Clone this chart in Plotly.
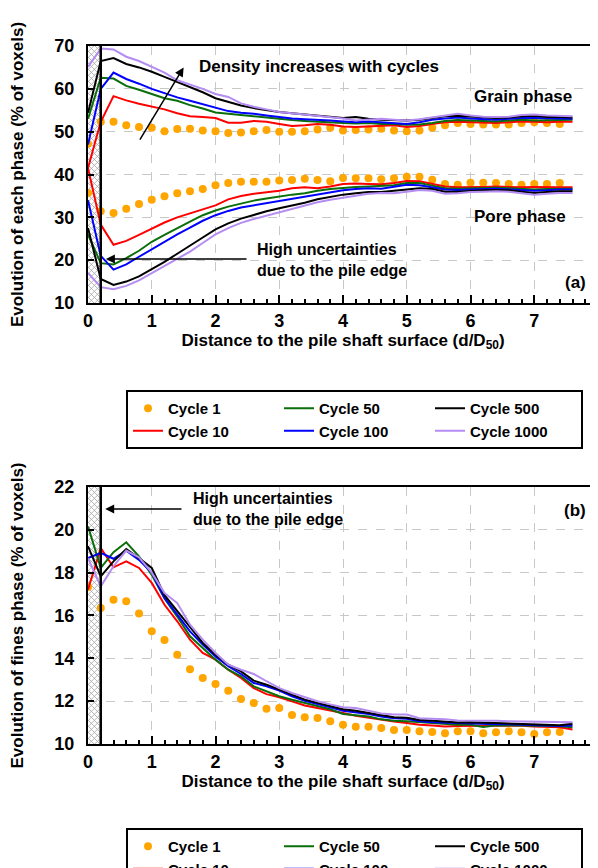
import plotly.graph_objects as go

# ---------------- data ----------------
DIST = [0.0, 0.2, 0.4, 0.6, 0.8, 1.0, 1.2, 1.4, 1.6, 1.8, 2.0, 2.2, 2.4, 2.6, 2.8,
        3.0, 3.2, 3.4, 3.6, 3.8, 4.0, 4.2, 4.4, 4.6, 4.8, 5.0, 5.2, 5.4, 5.6, 5.8,
        6.0, 6.2, 6.4, 6.6, 6.8, 7.0, 7.2, 7.4, 7.6]
DIST_C1 = [0.0, 0.2, 0.4, 0.6, 0.8, 1.0, 1.2, 1.4, 1.6, 1.8, 2.0, 2.2, 2.4, 2.6, 2.8,
           3.0, 3.2, 3.4, 3.6, 3.8, 4.0, 4.2, 4.4, 4.6, 4.8, 5.0, 5.2, 5.4, 5.6, 5.8,
           6.0, 6.2, 6.4, 6.6, 6.8, 7.0, 7.2, 7.4]

CYCLES = ["Cycle 1", "Cycle 10", "Cycle 50", "Cycle 100", "Cycle 500", "Cycle 1000"]

# grain phase (% of voxels)
GRAIN_C1 = [47.2, 52.3, 52.3, 51.5, 51.1, 50.9, 50.1, 50.6, 50.7, 50.3, 50.1, 49.7, 49.8,
            50.1, 50.4, 50.0, 50.0, 50.1, 50.5, 50.9, 50.3, 50.4, 50.5, 50.7, 50.3, 50.1,
            50.3, 50.9, 51.5, 52.0, 51.8, 51.7, 51.7, 51.7, 52.0, 52.2, 52.0, 51.8]
GRAIN_C10 = [41.5, 52.3, 58.3, 57.3, 56.5, 55.9, 55.2, 54.3, 53.6, 53.4, 53.2, 52.1, 52.1,
             52.5, 52.3, 51.8, 51.3, 51.5, 51.8, 51.6, 51.2, 51.1, 51.2, 51.4, 51.5, 51.1,
             51.3, 51.8, 52.2, 52.3, 52.2, 52.1, 52.0, 52.2, 52.4, 52.3, 52.2, 52.3, 52.3]
GRAIN_C50 = [53.0, 62.6, 62.4, 60.7, 59.8, 58.8, 57.8, 57.2, 56.2, 55.4, 54.5, 54.2, 53.9,
             53.5, 53.2, 52.9, 52.7, 52.5, 52.3, 52.2, 52.0, 51.9, 52.0, 51.8, 51.8, 51.6,
             51.7, 52.0, 52.5, 52.7, 52.6, 52.5, 52.4, 52.6, 52.8, 52.6, 52.7, 52.8, 52.8]
GRAIN_C100 = [47.0, 60.0, 63.8, 62.3, 61.2, 60.0, 59.0, 58.0, 57.2, 56.4, 55.5, 54.8, 54.4,
              54.2, 53.8, 53.4, 53.1, 52.9, 52.8, 52.6, 52.4, 52.2, 52.4, 52.2, 52.1, 51.8,
              52.2, 52.8, 53.1, 53.3, 53.1, 52.9, 52.8, 53.0, 53.2, 53.2, 53.1, 53.1, 53.0]
GRAIN_C500 = [54.4, 66.5, 67.2, 65.8, 65.0, 64.0, 62.8, 61.6, 60.5, 59.2, 57.8, 57.0, 56.1,
              55.5, 55.0, 54.6, 54.3, 54.0, 53.8, 53.5, 53.2, 53.4, 53.0, 52.8, 52.7, 52.6,
              52.8, 53.2, 53.6, 53.7, 53.5, 53.3, 53.2, 53.3, 53.6, 53.7, 53.4, 53.4, 53.3]
GRAIN_C1000 = [65.1, 69.4, 69.2, 67.5, 66.5, 65.1, 63.8, 62.0, 61.0, 60.0, 58.8, 58.1, 56.6,
               55.8, 55.2, 54.6, 54.3, 54.0, 53.6, 53.4, 53.1, 52.6, 52.8, 53.0, 52.8, 52.6,
               52.9, 53.3, 53.8, 54.2, 53.8, 53.5, 53.4, 53.5, 53.9, 54.0, 53.8, 53.7, 53.6]

# pore phase (% of voxels)
PORE_C1 = [35.7, 31.4, 31.0, 32.0, 33.1, 34.1, 34.9, 35.6, 36.1, 36.6, 37.5, 38.0, 38.3,
           38.3, 38.3, 38.6, 38.7, 39.0, 38.7, 38.4, 39.2, 39.1, 39.1, 38.9, 39.1, 39.5,
           39.5, 38.8, 37.8, 37.6, 38.1, 38.1, 38.0, 37.8, 37.6, 37.8, 37.8, 38.0]
PORE_C10 = [41.5, 28.3, 23.6, 24.5, 25.9, 27.4, 28.8, 30.0, 30.9, 31.8, 32.8, 34.2, 35.0,
            35.5, 35.8, 36.2, 36.8, 37.0, 36.8, 37.2, 37.8, 37.9, 37.8, 37.7, 38.0, 38.5,
            38.4, 37.8, 37.2, 37.0, 37.0, 37.1, 37.2, 37.1, 37.0, 37.1, 37.0, 37.0, 37.0]
PORE_C50 = [26.0, 19.3, 19.0, 20.5, 22.2, 24.3, 25.9, 27.5, 29.0, 30.5, 31.6, 32.5, 33.2,
            33.9, 34.4, 34.9, 35.3, 35.6, 36.2, 36.6, 36.9, 37.1, 37.2, 37.3, 37.5, 38.0,
            38.0, 37.4, 36.8, 36.7, 36.8, 36.8, 36.9, 36.8, 36.7, 36.5, 36.6, 36.7, 36.7]
PORE_C100 = [34.0, 21.0, 17.8, 19.0, 20.8, 22.6, 24.3, 26.0, 27.6, 29.2, 30.5, 31.5, 32.3,
             32.8, 33.3, 33.8, 34.4, 34.8, 35.3, 35.8, 36.3, 36.6, 36.8, 36.7, 37.1, 37.6,
             37.5, 37.0, 36.5, 36.4, 36.5, 36.6, 36.7, 36.5, 36.4, 36.2, 36.3, 36.5, 36.5]
PORE_C500 = [27.5, 15.6, 14.2, 15.0, 16.2, 17.8, 19.6, 21.5, 23.5, 25.3, 27.2, 28.6, 29.7,
             30.6, 31.4, 32.1, 32.7, 33.4, 34.2, 34.8, 35.3, 35.6, 35.9, 35.9, 36.2, 36.6,
             36.8, 36.6, 36.0, 36.0, 36.2, 36.3, 36.4, 36.3, 36.0, 35.7, 35.9, 36.1, 36.1]
PORE_C1000 = [17.0, 13.7, 13.2, 14.0, 15.3, 17.0, 18.7, 20.3, 22.0, 24.0, 26.0, 27.5, 28.7,
              29.6, 30.4, 31.2, 32.0, 32.8, 33.5, 34.1, 34.6, 35.0, 35.5, 35.7, 35.6, 36.0,
              36.4, 36.2, 35.5, 35.6, 35.9, 36.0, 36.1, 36.0, 35.6, 35.3, 35.5, 35.7, 35.7]

# fines phase (% of voxels)
FINES_C1 = [17.33, 16.35, 16.74, 16.66, 16.09, 15.26, 14.86, 14.17, 13.49, 13.08, 12.80,
            12.49, 12.10, 11.91, 11.65, 11.68, 11.35, 11.25, 11.21, 11.06, 10.90, 10.81,
            10.81, 10.75, 10.65, 10.65, 10.59, 10.56, 10.50, 10.59, 10.59, 10.50, 10.55,
            10.59, 10.55, 10.47, 10.55, 10.56]
FINES_C10 = [17.2, 19.15, 18.25, 18.53, 18.22, 17.52, 16.5, 15.73, 14.87, 14.25, 13.94,
             13.47, 13.08, 12.61, 12.33, 12.18, 11.99, 11.8, 11.68, 11.58, 11.45, 11.32,
             11.22, 11.14, 11.05, 10.98, 10.9, 10.86, 10.82, 10.84, 10.86, 10.85, 10.85,
             10.86, 10.85, 10.82, 10.8, 10.78, 10.68]
FINES_C50 = [20.16, 18.22, 18.96, 19.42, 18.76, 17.9, 16.8, 15.95, 15.03, 14.5, 13.94,
             13.47, 13.16, 12.69, 12.46, 12.23, 12.07, 11.91, 11.78, 11.62, 11.4, 11.35,
             11.28, 11.15, 11.08, 11.06, 11.02, 10.95, 10.93, 10.9, 10.9, 10.8, 10.88,
             10.87, 10.85, 10.82, 10.82, 10.83, 10.78]
FINES_C100 = [18.68, 18.92, 18.65, 19.03, 18.6, 18.0, 16.82, 16.04, 15.26, 14.64, 14.09,
              13.63, 13.27, 12.85, 12.69, 12.49, 12.23, 12.02, 11.88, 11.72, 11.55, 11.48,
              11.4, 11.28, 11.2, 11.18, 11.06, 11.02, 11.0, 10.96, 10.95, 10.93, 10.92,
              10.92, 10.9, 10.88, 10.86, 10.84, 10.86]
FINES_C500 = [19.23, 17.83, 18.53, 19.1, 18.68, 18.22, 16.95, 16.2, 15.42, 14.72, 14.17,
              13.7, 13.39, 12.96, 12.77, 12.54, 12.3, 12.07, 11.92, 11.78, 11.62, 11.55,
              11.45, 11.32, 11.25, 11.22, 11.12, 11.08, 11.05, 11.0, 11.02, 11.0, 10.98,
              10.98, 10.96, 10.95, 10.92, 10.88, 10.95]
FINES_C1000 = [18.68, 17.36, 18.3, 19.03, 18.72, 18.0, 17.05, 16.58, 15.57, 14.87, 14.25,
               13.7, 13.47, 13.27, 12.93, 12.61, 12.38, 12.18, 12.0, 11.85, 11.72, 11.68,
               11.55, 11.42, 11.38, 11.38, 11.2, 11.18, 11.15, 11.1, 11.1, 11.1, 11.08,
               11.06, 11.05, 11.02, 11.03, 11.02, 11.02]

X_TICKS = [0, 1, 2, 3, 4, 5, 6, 7, 8]
Y_TICKS_TOP = [10, 20, 30, 40, 50, 60, 70]
Y_TICKS_BOTTOM = [10, 12, 14, 16, 18, 20, 22]
EDGE_ZONE = [0.0, 0.2]   # uncertain zone next to the pile (d/D50)

# ---------------- style / layout constants ----------------
FONT = "Liberation Sans"
COLORS = {"Cycle 1": "#FFA500", "Cycle 10": "#FF0000", "Cycle 50": "#0A6E0A",
          "Cycle 100": "#0000FF", "Cycle 500": "#000000", "Cycle 1000": "#B48CF2"}
RANK = {"Cycle 1": 1, "Cycle 50": 2, "Cycle 500": 3, "Cycle 10": 4, "Cycle 100": 5,
        "Cycle 1000": 6}
W, H = 598, 868
M_L, M_R, M_T, M_B = 80, 8, 38, 132
PLOT_W = W - M_L - M_R            # 510 px
PLOT_H = H - M_T - M_B            # 698 px
DOM_TOP = [0.6318, 1.0]
DOM_BOT = [0.0, 0.3682]

GRAIN = {"Cycle 1": GRAIN_C1, "Cycle 10": GRAIN_C10, "Cycle 50": GRAIN_C50,
         "Cycle 100": GRAIN_C100, "Cycle 500": GRAIN_C500, "Cycle 1000": GRAIN_C1000}
PORE = {"Cycle 1": PORE_C1, "Cycle 10": PORE_C10, "Cycle 50": PORE_C50,
        "Cycle 100": PORE_C100, "Cycle 500": PORE_C500, "Cycle 1000": PORE_C1000}
FINES = {"Cycle 1": FINES_C1, "Cycle 10": FINES_C10, "Cycle 50": FINES_C50,
         "Cycle 100": FINES_C100, "Cycle 500": FINES_C500, "Cycle 1000": FINES_C1000}

fig = go.Figure()


def hatch_lines(yt, dom, spacing=6.0):
    """Cross-hatch decoration of the uncertain zone (45 deg in screen space)."""
    x0, x1 = EDGE_ZONE
    y0, y1 = yt[0], yt[-1]
    sx = PLOT_W / (X_TICKS[-1] - X_TICKS[0])
    sy = PLOT_H * (dom[1] - dom[0]) / (y1 - y0)
    w = (x1 - x0) * sx
    h = (y1 - y0) * sy
    xs, ys = [], []
    c = -w
    while c < h:
        a, b = max(0.0, -c), min(w, h - c)
        if b > a:
            xs += [x0 + a / sx, x0 + b / sx, None]
            ys += [y0 + (a + c) / sy, y0 + (b + c) / sy, None]
        c += spacing
    c = 0.0
    while c < h + w:
        a, b = max(0.0, c - h), min(w, c)
        if b > a:
            xs += [x0 + a / sx, x0 + b / sx, None]
            ys += [y0 + (c - a) / sy, y0 + (c - b) / sy, None]
        c += spacing
    return xs, ys


for xa, ya, yt, dom in [("x", "y", Y_TICKS_TOP, DOM_TOP),
                        ("x2", "y2", Y_TICKS_BOTTOM, DOM_BOT)]:
    hx, hy = hatch_lines(yt, dom)
    fig.add_trace(go.Scatter(x=hx, y=hy, xaxis=xa, yaxis=ya, mode="lines",
                             line=dict(color="#a6a6a6", width=0.8),
                             showlegend=False, hoverinfo="skip"))


def add_series(cyc, xs, ys, xa, ya, legend, show):
    if cyc == "Cycle 1":
        fig.add_trace(go.Scatter(
            x=xs, y=ys, mode="markers", name=cyc, xaxis=xa, yaxis=ya,
            marker=dict(color=COLORS[cyc], size=8), legend=legend,
            legendrank=RANK[cyc], showlegend=show))
    else:
        fig.add_trace(go.Scatter(
            x=xs, y=ys, mode="lines", name=cyc, xaxis=xa, yaxis=ya,
            line=dict(color=COLORS[cyc], width=2), legend=legend,
            legendrank=RANK[cyc], showlegend=show))


for cyc in CYCLES:
    xs = DIST_C1 if cyc == "Cycle 1" else DIST
    add_series(cyc, xs, GRAIN[cyc], "x", "y", "legend", True)
    add_series(cyc, xs, PORE[cyc], "x", "y", "legend", False)
    add_series(cyc, xs, FINES[cyc], "x2", "y2", "legend2", True)

bold = dict(family=FONT, size=17, color="black", weight="bold")
tickfont = dict(family=FONT, size=18, color="black", weight="bold")


def xaxis_cfg(anchor):
    return dict(
        anchor=anchor, domain=[0, 1], range=[X_TICKS[0], X_TICKS[-1]], tickvals=X_TICKS,
        ticks="inside", ticklen=8, tickwidth=1.5, tickcolor="black",
        minor=dict(dtick=0.2, ticks="inside", ticklen=4, tickwidth=1.5,
                   tickcolor="black", showgrid=False),
        showline=True, linecolor="black", linewidth=2, mirror=True,
        showgrid=True, gridcolor="#c8c8c8", griddash="dash", gridwidth=1,
        zeroline=False, tickfont=tickfont, automargin=False,
        title=dict(text="Distance to the pile shaft surface (d/D<sub>50</sub>)",
                   font=bold, standoff=4))


def yaxis_cfg(anchor, domain, ticks, title):
    return dict(
        anchor=anchor, domain=domain, range=[ticks[0], ticks[-1]], tickvals=ticks,
        ticks="inside", ticklen=6, tickwidth=1.5, tickcolor="black",
        showline=True, linecolor="black", linewidth=2, mirror=True,
        showgrid=True, gridcolor="#c8c8c8", griddash="dash", gridwidth=1,
        zeroline=False, tickfont=tickfont, automargin=False, ticklabelstandoff=8,
        title=dict(text=title, font=bold, standoff=26))


legend_common = dict(
    orientation="h", xanchor="left", yanchor="top", x=38 / PLOT_W,
    entrywidth=106, bordercolor="black", borderwidth=2, bgcolor="white",
    font=dict(family=FONT, size=15, color="black", weight="bold"),
    itemwidth=30, traceorder="normal")

fig.update_layout(
    width=W, height=H,
    margin=dict(l=M_L, r=M_R, t=M_T, b=M_B, autoexpand=False),
    paper_bgcolor="white", plot_bgcolor="white",
    font=dict(family=FONT, color="black"),
    xaxis=xaxis_cfg("y"),
    yaxis=yaxis_cfg("x", DOM_TOP, Y_TICKS_TOP,
                    "Evolution of each phase (% of voxels)"),
    xaxis2=xaxis_cfg("y2"),
    yaxis2=yaxis_cfg("x2", DOM_BOT, Y_TICKS_BOTTOM,
                     "Evolution of fines phase (% of voxels)"),
    legend=dict(legend_common, y=(H - M_B - 382) / PLOT_H),
    legend2=dict(legend_common, y=(H - M_B - 820) / PLOT_H),
    showlegend=True,
)

# pile edge lines
for xr, yr in [("x", "y domain"), ("x2", "y2 domain")]:
    fig.add_shape(type="line", xref=xr, yref=yr, x0=EDGE_ZONE[1], x1=EDGE_ZONE[1],
                  y0=0, y1=1, line=dict(color="black", width=2.5))

ann = []
def text(t, x, y, xr, yr, xanchor="left", size=17):
    ann.append(dict(text=t, x=x, y=y, xref=xr, yref=yr, showarrow=False,
                    xanchor=xanchor, yanchor="middle", align="left",
                    font=dict(bold, size=size)))

def arrow(x_head, y_head, x_tail, y_tail, xr, yr):
    ann.append(dict(text="", x=x_head, y=y_head, ax=x_tail, ay=y_tail, xref=xr,
                    yref=yr, axref=xr, ayref=yr, showarrow=True, arrowhead=2,
                    arrowsize=1.2, arrowwidth=1.5, arrowcolor="black"))

# panel (a)
text("Density increases with cycles", 1.71, 65.1, "x", "y")
arrow(1.5, 65.0, 0.8, 47.8, "x", "y")
text("Grain phase", 6.02, 58.1, "x", "y")
text("Pore phase", 6.02, 30.1, "x", "y")
text("High uncertainties<br>due to the pile edge", 2.62, 20.15, "x", "y", size=16)
arrow(0.28, 20.3, 2.51, 20.3, "x", "y")
text("(a)", 7.84, 14.7, "x", "y", "right")
# panel (b)
text("High uncertainties<br>due to the pile edge", 1.62, 20.97, "x2", "y2", size=16)
arrow(0.27, 20.97, 1.49, 20.97, "x2", "y2")
text("(b)", 7.84, 20.88, "x2", "y2", "right")

fig.update_layout(annotations=ann)

fig.write_html("out.html")
